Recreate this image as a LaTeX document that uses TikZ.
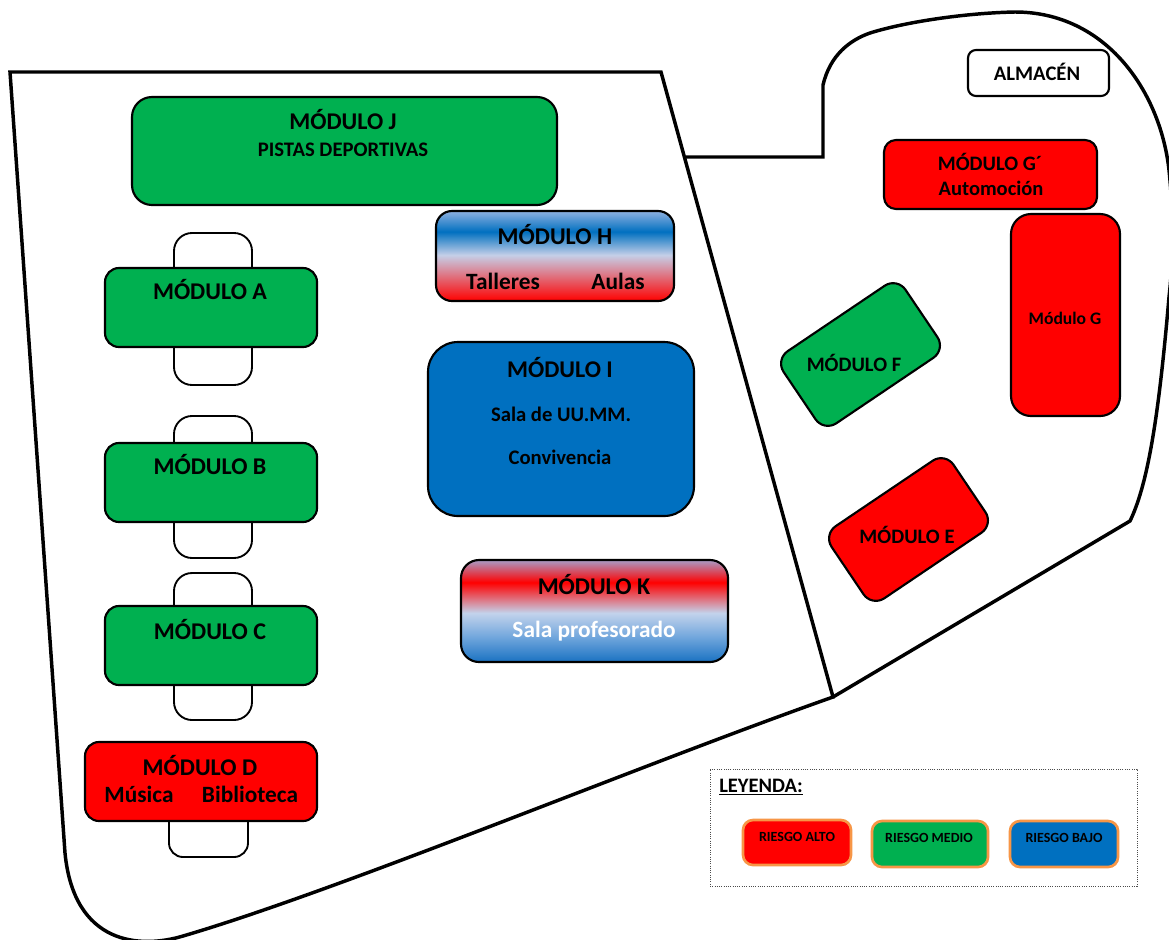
\documentclass[tikz,border=0pt]{standalone}
\usepackage{fontspec}
\setmainfont{Carlito}
\definecolor{modgreen}{HTML}{00B050}
\definecolor{modblue}{HTML}{0070C0}
\definecolor{modred}{HTML}{FF0000}
\definecolor{legor}{HTML}{F79646}
\definecolor{HB}{HTML}{C5CFE8}
\definecolor{HT}{HTML}{8EB0E0}
\definecolor{KB}{HTML}{1A72C2}
\definecolor{KM}{HTML}{6FA5DC}
\definecolor{KL}{HTML}{C3D3EC}
\definecolor{KT}{HTML}{A89CC6}
\pgfdeclareverticalshading{gradH}{100bp}{color(0bp)=(modred); color(25bp)=(modred); color(50.5bp)=(HB); color(63.5bp)=(modblue); color(75bp)=(HT); color(100bp)=(HT)}
\pgfdeclareverticalshading{gradK}{100bp}{color(0bp)=(KB); color(25bp)=(KB); color(37bp)=(KM); color(49bp)=(KL); color(64bp)=(modred); color(75bp)=(KT); color(100bp)=(KT)}
\tikzset{
  wall/.style={line width=2.6pt,line join=miter},
  modbox/.style={draw=black,line width=1.6pt,inner sep=0pt,outer sep=0pt},
  tabbox/.style={draw=black,line width=1.4pt,fill=white,inner sep=0pt,outer sep=0pt},
  legbox/.style={draw=legor,line width=2pt,inner sep=0pt,outer sep=0pt},
  big/.style={font=\fontsize{18}{20}\selectfont\bfseries,inner sep=0pt},
  bigl/.style={font=\fontsize{17.5}{20}\selectfont\bfseries,inner sep=0pt},
  mid/.style={font=\fontsize{15.4}{17}\selectfont\bfseries,inner sep=0pt},
  small/.style={font=\fontsize{15.5}{17}\selectfont\bfseries,inner sep=0pt},
  smalll/.style={font=\fontsize{13.2}{15}\selectfont\bfseries,inner sep=0pt},
  tiny/.style={font=\fontsize{10.5}{12}\selectfont\bfseries,inner sep=0pt},
}
% \pxbox{name}{x1}{y1}{x2}{y2}{radius px}{style}
\newcommand\pxbox[7]{%
  \pgfmathsetmacro\bw{(#4-#2)*0.75}%
  \pgfmathsetmacro\bh{(#5-#3)*0.75}%
  \pgfmathsetmacro\br{#6*0.75}%
  \node[#7,minimum width=\bw pt,minimum height=\bh pt,rounded corners=\br pt] (#1) at ({(#2+#4)/2},{(#3+#5)/2}) {};}
\begin{document}
\begin{tikzpicture}[x=0.75pt,y=-0.75pt]
\useasboundingbox (0,0) rectangle (1169,939);
\fill[white] (0,0) rectangle (1169,939);
% site outline
\begin{scope}
\clip (0,0) rectangle (1169,939);
\draw[wall] (10,72) -- (661,72) -- (833,697)
  .. controls (640,765) and (340,890) .. (183,936)
  .. controls (140,949) and (74,945) .. (65,853) -- cycle;
\draw[wall] (686,157) -- (823,157) -- (823,85)
  .. controls (830,55) and (850,40) .. (870,33)
  .. controls (905,22) and (965,13) .. (1015,12)
  .. controls (1105,12) and (1160,90) .. (1169,170)
  .. controls (1175,230) and (1172,270) .. (1169,297)
  .. controls (1160,400) and (1150,480) .. (1130,521) -- (833,697);
\end{scope}
% wings behind modules
\pxbox{wingA}{174}{233}{252}{385}{18}{tabbox}
\pxbox{wingB}{174}{416}{252}{558}{18}{tabbox}
\pxbox{wingC}{174}{573}{252}{720}{18}{tabbox}
\pxbox{wingD}{169}{790}{248}{857}{14}{tabbox}
% modules
\pxbox{modJ}{132}{97}{557}{205}{20}{modbox,fill=modgreen}
\pxbox{modA}{105}{268}{317}{347}{14}{modbox,fill=modgreen}
\pxbox{modB}{105}{443}{317}{522}{14}{modbox,fill=modgreen}
\pxbox{modC}{105}{606}{317}{685}{14}{modbox,fill=modgreen}
\pxbox{modD}{85}{742}{317}{821}{14}{modbox,fill=modred}
\pxbox{modH}{436}{211}{674}{301}{16}{modbox,shading=gradH}
\pxbox{modI}{428}{342}{694}{516}{30}{modbox,fill=modblue}
\pxbox{modK}{461}{560}{728}{662}{18}{modbox,shading=gradK}
\pxbox{almacen}{968}{50}{1109}{96}{8}{modbox,fill=white}
\pxbox{modGp}{884}{140}{1097}{209}{12}{modbox,fill=modred}
\pxbox{modG}{1011}{214}{1120}{416}{20}{modbox,fill=modred}
\pxbox{modF}{787}{311}{934}{398}{15}{modbox,fill=modgreen,rotate=34}
\pxbox{modE}{835}{486}{982}{573}{15}{modbox,fill=modred,rotate=34}
% labels
\node[big] (tJ) at (343,120) {MÓDULO J};
\node[small] (tJb) at (343,150) {PISTAS DEPORTIVAS};
\node[big] (tA) at (210,290) {MÓDULO A};
\node[big] (tB) at (210,465) {MÓDULO B};
\node[big] (tC) at (210,629) {MÓDULO C};
\node[big] (tD) at (200,765) {MÓDULO D};
\node[bigl] (tDa) at (139,794) {Música};
\node[bigl] (tDb) at (250,794) {Biblioteca};
\node[big] (tH) at (555,235) {MÓDULO H};
\node[bigl] (tHa) at (503,281) {Talleres};
\node[bigl] (tHb) at (618,281) {Aulas};
\node[big] (tI) at (560,368) {MÓDULO I};
\node[small] (tIa) at (561,414) {Sala de UU.MM.};
\node[small] (tIb) at (560,457) {Convivencia};
\node[big] (tK) at (594,584) {MÓDULO K};
\node[bigl,text=white] (tKa) at (594,631) {Sala profesorado};
\node[small] (tAl) at (1037,72) {ALMACÉN};
\node[mid] (tGp) at (990,162) {MÓDULO G´};
\node[mid] (tGpa) at (991,188) {Automoción};
\node[smalll] (tG) at (1065,318) {Módulo G};
\node[mid] (tF) at (854,363) {MÓDULO F};
\node[mid] (tE) at (907,535) {MÓDULO E};
% legend
\pxbox{legend}{710}{769}{1137}{886}{0}{draw=black!70,densely dotted,line width=0.7pt,inner sep=0pt,outer sep=0pt}
\node[mid,anchor=west] (tLeg) at (719,787) {\underline{LEYENDA:}};
\pxbox{legR}{743}{820}{851}{865}{10}{legbox,fill=modred}
\pxbox{legM}{872}{821}{988}{867}{10}{legbox,fill=modgreen}
\pxbox{legB}{1010}{821}{1118}{867}{10}{legbox,fill=modblue}
\node[tiny] (tLR) at (797,837) {RIESGO ALTO};
\node[tiny] (tLM) at (929,838) {RIESGO MEDIO};
\node[tiny] (tLB) at (1064,838) {RIESGO BAJO};
\end{tikzpicture}
\end{document}
